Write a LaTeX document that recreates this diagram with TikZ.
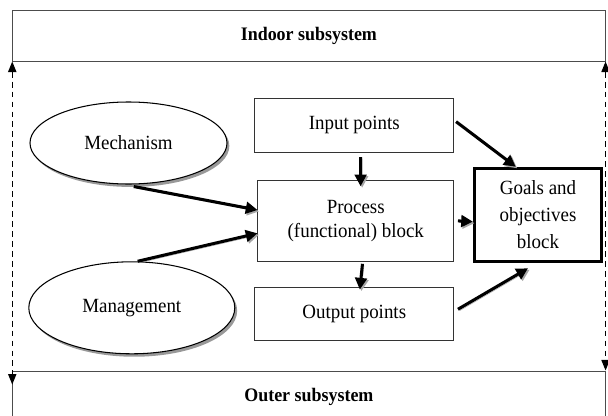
\documentclass[tikz,border=0pt]{standalone}
\usepackage{fontspec}
\setmainfont[FakeStretch=0.94]{Liberation Serif}
\usetikzlibrary{arrows.meta, shapes.geometric, shadows}

\begin{document}
\begin{tikzpicture}[x=0.03cm, y=-0.03cm,
  txt/.style={font=\fontsize{17.2}{21}\selectfont},
  band/.style={draw=black!70, line width=0.8pt, minimum width=17.77cm,
    minimum height=1.53cm, font=\fontsize{16.3}{18}\selectfont\bfseries},
  block/.style={draw=black!80, line width=0.8pt, align=center, txt},
  oval/.style={ellipse, draw, line width=0.9pt, fill=white, txt,
    drop shadow={shadow xshift=2pt, shadow yshift=-2.5pt, fill=black!40, opacity=1}},
  goal node/.style={draw, line width=2.4pt, align=center, minimum width=3.82cm,
    minimum height=2.81cm, font=\fontsize{17.2}{23}\selectfont},
  arr/.style={draw, line width=2.6pt, -{Triangle[length=10pt,width=10pt]},
    preaction={draw=black!35, transform canvas={shift={(1.3pt,-1.3pt)}}}},
  link/.style={{Triangle[length=9pt,width=7pt]}-{Triangle[length=9pt,width=7pt]},
    line width=1.1pt, dash pattern=on 5pt off 3.5pt}]
  \clip (0,0) rectangle (608,416);
  \node[band] (top) at (308.9,35.5) {Indoor subsystem};
  \node[band] (bot) at (308.9,396.5) {Outer subsystem};
  \node[oval, minimum width=5.91cm, minimum height=2.46cm] (mech) at (128.5,143) {Mechanism};
  \node[oval, minimum width=6.18cm, minimum height=2.76cm] (mgmt) at (131.8,307.8) {Management};
  \node[block, minimum width=5.96cm, minimum height=1.62cm] (inp) at (354.3,125.3) {Input points};
  \node[block, minimum width=5.87cm, minimum height=2.45cm] (proc) at (355.8,220.9) {Process\\(functional) block};
  \node[block, minimum width=5.96cm, minimum height=1.58cm] (out) at (354.3,313.7) {Output points};
  \node[goal node] (goal) at (538,215) {Goals and\\objectives\\block};
  % links between the two subsystems
  \draw[link] (top.south west) -- ([yshift=-12pt]bot.north west);
  \draw[link] (top.south east) -- (bot.north east);
  \path[every edge/.style={arr}]
    ([xshift=4.5pt,yshift=-1.7pt]mech.south) edge ([yshift=9.3pt]proc.west)
    ([xshift=5pt]mgmt.north) edge ([yshift=-10.6pt]proc.west)
    ([xshift=5.4pt,yshift=-3.8pt]inp.south) edge ([xshift=4.1pt,yshift=-5.7pt]proc.north)
    ([xshift=5.7pt,yshift=-1.4pt]proc.south) edge ([xshift=4.7pt,yshift=-2.3pt]out.north)
    ([xshift=1.7pt,yshift=3.1pt]inp.east) edge ([xshift=-19pt]goal.north)
    ([xshift=3.3pt]proc.east) edge ([yshift=-5.7pt]goal.west)
    ([xshift=3.3pt,yshift=3.8pt]out.east) edge ([xshift=-8.5pt,yshift=-4.3pt]goal.south);
\end{tikzpicture}
\end{document}
